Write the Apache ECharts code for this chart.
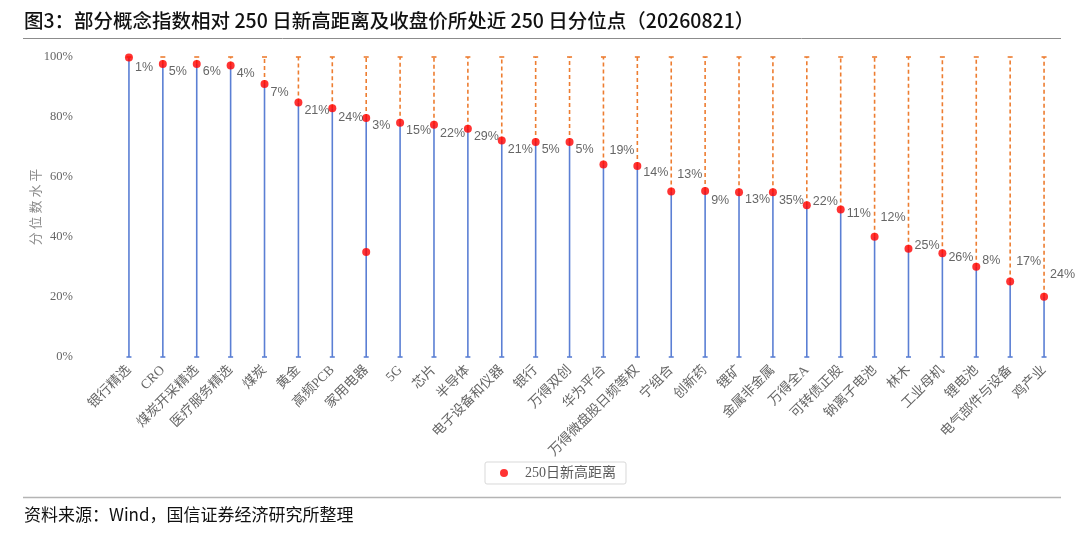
<!DOCTYPE html>
<html>
<head>
<meta charset="utf-8">
<script src="https://cdn.jsdelivr.net/npm/echarts@6/dist/echarts.min.js"></script>
<style>
  html, body { margin: 0; padding: 0; background: #fff; }
  #chart { width: 1080px; height: 534px; }
</style>
</head>
<body>
<div id="chart"></div>
<script>
const categories = [
    "银行精选", "CRO", "煤炭开采精选", "医疗服务精选", "煤炭", "黄金", "高频PCB",
    "家用电器", "5G", "芯片", "半导体", "电子设备和仪器", "银行", "万得双创",
    "华为平台", "万得微盘股日频等权", "宁组合", "创新药", "锂矿", "金属非金属",
    "万得全A", "可转债正股", "钠离子电池", "林木", "工业母机", "锂电池",
    "电气部件与设备", "鸡产业",
];

// 收盘价所处近250日分位点 (%)
const pctLevel = [
    99.8, 97.7, 97.7, 97.2, 91.0, 84.8, 82.9, 79.7, 78.1, 77.4, 76.1, 72.2, 71.7, 71.7,
    64.2, 63.7, 55.2, 55.3, 54.9, 54.9, 50.6, 49.2, 40.1, 36.1, 34.6, 30.1, 25.2, 20.1,
];

// 相对250日新高距离 (%)
const distHigh = [
    1, 5, 6, 4, 7, 21, 24, 3, 15, 22, 29, 21, 5, 5,
    19, 14, 13, 9, 13, 35, 22, 11, 12, 25, 26, 8, 17, 24,
];

// extra point drawn in the source figure
const extraPoints = [["家用电器", 35]];

// label vertical shift per point (layout only)
const labelDy = [
    10, 8, 8, 8, 9, 8, 9, 8, 8, 9, 8, 9, 8, 8,
    -14, 7, -17, 9, 7, 8, -4, 4, -19, -3, 4, -6, -20, -22,
];

const BLUE = "#5B7FD4";
const ORANGE = "#ED7D31";

const chart = echarts.init(document.getElementById("chart"), null, { width: 1080, height: 534 });

const capHalf = 2.5;

const option = {
    animation: false,
    backgroundColor: "#fff",
    grid: { left: 112, right: 19, top: 57, height: 300 },
    legend: {
        data: [{ name: "250日新高距离", icon: "circle" }],
        left: 485,
        top: 462,
        itemWidth: 8,
        itemHeight: 8,
        itemGap: 10,
        padding: [4, 10, 4, 15],
        borderColor: "#d9d9d9",
        borderWidth: 1,
        borderRadius: 2,
        textStyle: {
            fontFamily: "Liberation Serif, Noto Sans CJK SC",
            fontSize: 14,
            color: "#595959",
            padding: [0, 0, 0, 12],
        },
    },
    xAxis: {
        type: "category",
        data: categories,
        axisLine: { show: false },
        axisTick: { show: false },
        axisLabel: {
            interval: 0,
            rotate: 45,
            margin: 11,
            fontSize: 13.5,
            color: "#666",
            fontFamily: "Liberation Serif, Noto Sans CJK SC",
        },
    },
    yAxis: {
        type: "value",
        min: 0,
        max: 100,
        interval: 20,
        name: "分 位 数 水 平",
        nameLocation: "middle",
        nameRotate: 90,
        nameGap: 70,
        nameMoveOverlap: false,
        nameTextStyle: {
            fontSize: 13,
            color: "#8c8c8c",
            fontFamily: "Noto Sans CJK SC",
        },
        axisLine: { show: false },
        axisTick: { show: false },
        splitLine: { show: false },
        axisLabel: {
            formatter: "{value}%",
            margin: 39,
            fontSize: 12.5,
            color: "#666",
            fontFamily: "Liberation Serif",
        },
    },
    series: [
        {
            type: "custom",
            name: "range",
            silent: true,
            data: pctLevel.map((v, i) => [i, v]),
            renderItem: (params, api) => {
                const base = api.coord([api.value(0), 0]);
                const x = base[0];
                const y0 = base[1];
                const yv = api.coord([api.value(0), api.value(1)])[1];
                const y1 = api.coord([api.value(0), 100])[1];
                const blue = { stroke: BLUE, lineWidth: 1.6 };
                const orange = { stroke: ORANGE, lineWidth: 1.6 };
                return {
                    type: "group",
                    children: [
                        { type: "line", shape: { x1: x, y1: y0, x2: x, y2: yv }, style: blue },
                        { type: "line", shape: { x1: x - capHalf, y1: y0, x2: x + capHalf, y2: y0 }, style: blue },
                        {
                            type: "line",
                            shape: { x1: x, y1: yv, x2: x, y2: y1 },
                            style: { stroke: ORANGE, lineWidth: 1.6, lineDash: [4, 3] },
                        },
                        { type: "line", shape: { x1: x - capHalf, y1: y1, x2: x + capHalf, y2: y1 }, style: orange },
                    ],
                };
            },
            z: 2,
        },
        {
            type: "scatter",
            name: "250日新高距离",
            symbol: "circle",
            symbolSize: 8,
            itemStyle: { color: "#FF0000" },
            z: 5,
            data: pctLevel
                .map((v, i) => ({
                    value: [i, v],
                    label: {
                        show: true,
                        position: "right",
                        distance: 2,
                        offset: [0, labelDy[i]],
                        formatter: distHigh[i] + "%",
                        fontFamily: "Liberation Sans",
                        fontSize: 12.5,
                        color: "#404040",
                    },
                }))
                .concat(extraPoints.map((p) => ({ value: [categories.indexOf(p[0]), p[1]] }))),
        },
    ],
    graphic: [
        {
            type: "text",
            left: 24,
            top: 11,
            style: {
                text: "图3：部分概念指数相对 250 日新高距离及收盘价所处近 250 日分位点（20260821）",
                fontFamily: "Noto Sans CJK SC",
                fontSize: 19.5,
                fontWeight: 500,
                fill: "#111",
            },
        },
        {
            type: "line",
            shape: { x1: 23, y1: 38.5, x2: 1061, y2: 38.5 },
            style: { stroke: "#8c8c8c", lineWidth: 1 },
        },
        {
            type: "line",
            shape: { x1: 23, y1: 497.5, x2: 1061, y2: 497.5 },
            style: { stroke: "#b4b4b4", lineWidth: 1.5 },
        },
        {
            type: "text",
            left: 24,
            top: 506,
            style: {
                text: "资料来源：Wind，国信证券经济研究所整理",
                fontFamily: "Noto Sans CJK SC",
                fontSize: 17,
                fill: "#111",
            },
        },
    ],
};

chart.setOption(option);
</script>
</body>
</html>
